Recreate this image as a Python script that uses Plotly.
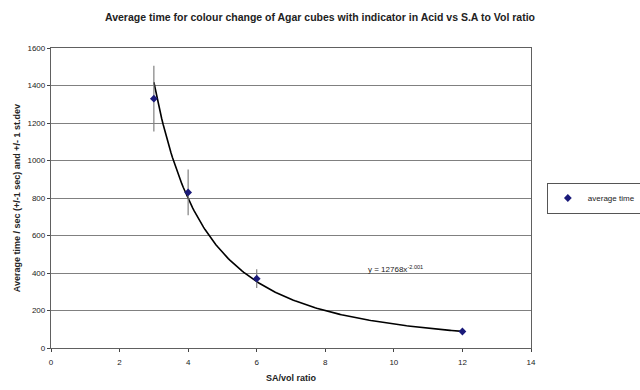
import numpy as np
import plotly.graph_objects as go

sa_vol = [3, 4, 6, 12]
avg_time = [1330, 830, 370, 88]
std_dev = [175, 122, 50, 12]
fit_a = 12768
fit_b = -2.001

xf = np.linspace(3, 12, 200)
yf = fit_a * xf ** fit_b

fig = go.Figure()
fig.add_trace(go.Scatter(x=xf, y=yf, mode="lines", line=dict(color="black", width=1.6),
                         showlegend=False, hoverinfo="skip"))
fig.add_trace(go.Scatter(x=sa_vol, y=avg_time, mode="markers", name="average time",
                         marker=dict(symbol="diamond", size=6, color="#1a1a7a"),
                         error_y=dict(type="data", array=std_dev, visible=True,
                                      color="#808080", thickness=1.2, width=0)))

fig.add_annotation(x=9.2, y=420, text="y = 12768x<sup>-2.001</sup>", showarrow=False,
                   xanchor="left", font=dict(size=8, color="#222"))

fig.update_layout(
    width=640, height=390,
    margin=dict(l=51, r=109, t=48, b=42, autoexpand=False),
    paper_bgcolor="white", plot_bgcolor="white",
    font=dict(family="Liberation Sans, Arial, sans-serif", color="#222"),
    title=dict(text="<b>Average time for colour change of Agar cubes with indicator in Acid vs S.A to Vol ratio</b>",
               x=0.5, xref="container", xanchor="center",
               y=0.956, yref="container", yanchor="middle", font=dict(size=10.5)),
    xaxis=dict(range=[0, 14], dtick=2, showgrid=False, ticks="outside", ticklen=3,
               linecolor="#606060", linewidth=1.3, mirror=True, showline=True, zeroline=False,
               tickfont=dict(size=8), ticklabelstandoff=3,
               title=dict(text="<b>SA/vol ratio</b>", font=dict(size=9), standoff=8)),
    yaxis=dict(range=[0, 1600], dtick=200, showgrid=True, gridcolor="#808080", gridwidth=1,
               ticks="outside", ticklen=3, linecolor="#606060", linewidth=1.3, mirror=True,
               showline=True, zeroline=False, tickfont=dict(size=8),
               title=dict(text="<b>Average time / sec (+/-1 sec) and +/- 1 st.dev</b>",
                          font=dict(size=9), standoff=5)),
    legend=dict(x=1.033, y=0.5, xanchor="left", yanchor="middle",
                bordercolor="#555", borderwidth=1, font=dict(size=8),
                bgcolor="white"),
)

fig.write_html("out.html", config={"displayModeBar": False},
               post_script="document.body.style.margin='0';document.body.style.overflow='hidden';")
